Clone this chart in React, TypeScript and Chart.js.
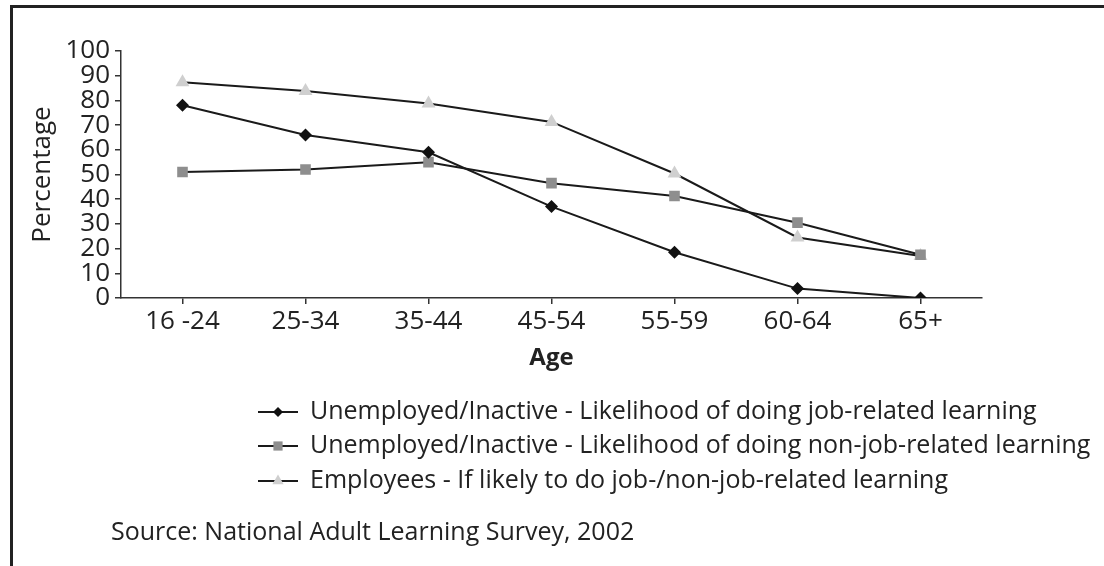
import { useEffect, useRef } from "react";
import { Chart, registerables } from "chart.js";
import { drawPoint } from "chart.js/helpers";

Chart.register(...registerables);

const categories = ["16 -24", "25-34", "35-44", "45-54", "55-59", "60-64", "65+"];
const jobRelated = [78, 66, 59, 37, 18.5, 3.8, 0];
const nonJobRelated = [51, 52, 55, 46.5, 41.3, 30.5, 17.5];
const employees = [87.3, 83.8, 78.7, 71.3, 50.4, 24.5, 17];
const seriesLabels = [
  "Unemployed/Inactive - Likelihood of doing job-related learning",
  "Unemployed/Inactive - Likelihood of doing non-job-related learning",
  "Employees - If likely to do job-/non-job-related learning",
];
const xTitle = "Age";
const yTitle = "Percentage";
const sourceText = "Source: National Adult Learning Survey, 2002";

const FONT = "'Open Sans', 'Noto Sans', sans-serif";
const TEXT = "#222";

const framePlugin = {
  id: "frame",
  beforeDraw(chart: any) {
    const ctx = chart.ctx;
    ctx.save();
    ctx.fillStyle = "#fff";
    ctx.fillRect(0, 0, chart.width, chart.height);
    ctx.fillStyle = "#222";
    ctx.fillRect(10, 5, chart.width - 10, 3);
    ctx.fillRect(10, 5, 3, chart.height - 5);
    ctx.restore();
  },
};

const legendPlugin = {
  id: "customLegend",
  afterDraw(chart: any) {
    const ctx = chart.ctx;
    const rows = [412, 446, 481];
    const legendMarkers = [
      { style: "rectRot", radius: 5 },
      { style: "rect", radius: 6.5 },
      { style: "triangle", radius: 6.5 },
    ];
    ctx.save();
    chart.data.datasets.forEach((ds: any, i: number) => {
      const y = rows[i];
      ctx.strokeStyle = ds.borderColor;
      ctx.lineWidth = 2;
      ctx.beginPath();
      ctx.moveTo(258, y);
      ctx.lineTo(298, y);
      ctx.stroke();
      ctx.fillStyle = ds.pointBackgroundColor;
      ctx.strokeStyle = ds.pointBackgroundColor;
      ctx.lineWidth = 0.01;
      drawPoint(
        ctx,
        { pointStyle: legendMarkers[i].style, radius: legendMarkers[i].radius, rotation: 0, borderWidth: 0 },
        278,
        y
      );
      ctx.fillStyle = TEXT;
      ctx.font = `25px ${FONT}`;
      ctx.textBaseline = "middle";
      ctx.textAlign = "left";
      ctx.fillText(ds.label, 310, y);
    });
    ctx.fillStyle = TEXT;
    ctx.font = `25px ${FONT}`;
    ctx.textBaseline = "middle";
    ctx.fillText(sourceText, 111, 533);
    ctx.restore();
  },
};

export default function App() {
  const ref = useRef<HTMLCanvasElement>(null);
  useEffect(() => {
    if (!ref.current) return;
    const common = {
      borderColor: "#1a1a1a",
      borderWidth: 2,
      tension: 0,
      pointBorderWidth: 0,
      fill: false,
    };
    const chart = new Chart(ref.current, {
      type: "line",
      data: {
        labels: categories,
        datasets: [
          {
            ...common,
            label: seriesLabels[0],
            data: jobRelated,
            pointStyle: "rectRot",
            pointRadius: 6.5,
            pointBackgroundColor: "#111",
            pointBorderColor: "#111",
          },
          {
            ...common,
            label: seriesLabels[1],
            data: nonJobRelated,
            pointStyle: "rect",
            pointRadius: 7.5,
            pointBackgroundColor: "#8e8e8e",
            pointBorderColor: "#8e8e8e",
          },
          {
            ...common,
            label: seriesLabels[2],
            data: employees,
            pointStyle: "triangle",
            pointRadius: 8,
            pointBackgroundColor: "#cfcfcf",
            pointBorderColor: "#cfcfcf",
          },
        ],
      },
      options: {
        responsive: false,
        animation: false,
        devicePixelRatio: 1,
        layout: { padding: { left: 14, top: 51, right: 122, bottom: 188 } },
        plugins: { legend: { display: false }, tooltip: { enabled: false } },
        scales: {
          x: {
            type: "category",
            offset: true,
            grid: { display: true, drawOnChartArea: false, drawTicks: true, tickLength: 6, color: "#333", lineWidth: 1.5 },
            border: { display: true, color: "#333", width: 1.5 },
            ticks: { color: TEXT, font: { family: FONT, size: 26 }, padding: 2, maxRotation: 0, autoSkip: false },
            title: { display: true, text: xTitle, color: TEXT, font: { family: FONT, size: 24, weight: "bold" }, padding: { top: 0, bottom: 5 } },
            afterFit: (scale: any) => {
              scale.height = 80;
            },
          },
          y: {
            min: 0,
            max: 100,
            grid: { display: true, drawOnChartArea: false, drawTicks: true, tickLength: 6, color: "#333", lineWidth: 1.5 },
            border: { display: true, color: "#333", width: 1.5 },
            ticks: { stepSize: 10, color: TEXT, font: { family: FONT, size: 26 }, padding: 5, autoSkip: false },
            title: { display: true, text: yTitle, color: TEXT, font: { family: FONT, size: 26 }, padding: { top: 13, bottom: 0 } },
            afterFit: (scale: any) => {
              scale.width = 107;
            },
          },
        },
      } as any,
      plugins: [framePlugin, legendPlugin],
    });
    return () => chart.destroy();
  }, []);
  return (
    <div style={{ position: "absolute", left: 0, top: 0, width: 1104, height: 566, background: "#fff" }}>
      <canvas ref={ref} width={1104} height={566} style={{ display: "block" }} />
    </div>
  );
}
